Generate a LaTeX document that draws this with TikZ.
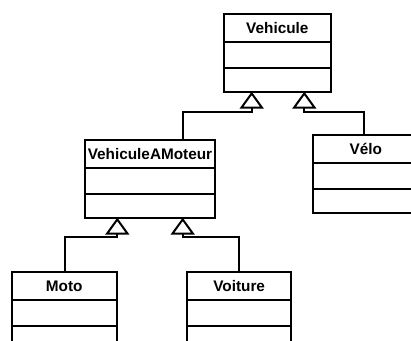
\documentclass[tikz,border=0pt]{standalone}
\usepackage{fontspec}
\setmainfont{Liberation Sans}
\usetikzlibrary{arrows.meta}
\newcommand\umlcls[5]{%
  \node[cls, minimum width=#4*0.75pt] (#1) at (#2,#3) {};
  \draw ([yshift=-27.7*0.75pt]#1.north west) -- ([yshift=-27.7*0.75pt]#1.north east);
  \draw ([yshift=-53.7*0.75pt]#1.north west) -- ([yshift=-53.7*0.75pt]#1.north east);
  \node[ttl] (#1t) at ([yshift=-14.2*0.75pt]#1.north) {#5};
}
\begin{document}
\begin{tikzpicture}[x=0.75pt,y=-0.75pt, line width=1.5pt,
  cls/.style={draw, inner sep=0pt, outer sep=0pt, minimum height=77.7*0.75pt, anchor=north west},
  ttl/.style={font=\fontsize{11.5}{13}\selectfont\bfseries, inner sep=0pt, anchor=center},
  inh/.style={-{Triangle[open,length=17*0.75pt,width=24*0.75pt]}}]
\useasboundingbox (0,0) rectangle (411,341);
\clip (0,0) rectangle (411,341);

\umlcls{veh}{224}{14}{106.7}{Vehicule}
\umlcls{vam}{85}{140}{130}{VehiculeAMoteur}
\umlcls{velo}{313.3}{135}{105}{Vélo}
\umlcls{moto}{11.7}{272}{105}{Moto}
\umlcls{voit}{187.3}{272}{103.7}{Voiture}

\coordinate (c1) at (183.3,111.7);
\coordinate (c1t) at (251.7,111.7);
\coordinate (c2) at (364.3,111.7);
\coordinate (c2t) at (304.3,111.7);
\coordinate (c3) at (65,237.3);
\coordinate (c3t) at (117.3,237.3);
\coordinate (c4) at (239,237.3);
\coordinate (c4t) at (182.7,237.3);

\draw[inh] (c1 |- vam.north) -- (c1) -- (c1t) -- (c1t |- veh.south);
\draw[inh] (c2 |- velo.north) -- (c2) -- (c2t) -- (c2t |- veh.south);
\draw[inh] (c3 |- moto.north) -- (c3) -- (c3t) -- (c3t |- vam.south);
\draw[inh] (c4 |- voit.north) -- (c4) -- (c4t) -- (c4t |- vam.south);
\end{tikzpicture}
\end{document}
